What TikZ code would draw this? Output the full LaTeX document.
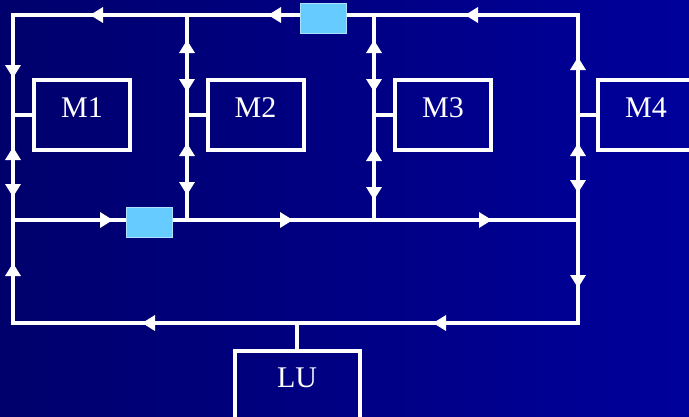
\documentclass[tikz,border=0pt]{standalone}
\usepackage{fontspec}
\setmainfont{Liberation Serif}
\usetikzlibrary{arrows.meta, decorations.markings}
\definecolor{bgleft}{RGB}{0,0,108}
\definecolor{bgright}{RGB}{0,0,155}
\definecolor{valvefill}{HTML}{66CCFF}
\definecolor{valveborder}{HTML}{A8E2FF}

\begin{document}
\begin{tikzpicture}[
    x=1pt, y=-1pt,
    wire/.style={draw=white, line width=4pt, line cap=rect},
    fwd/.style={postaction={decorate, decoration={markings,
        mark=at position #1pt with {\arrow{Triangle[length=13pt, width=15pt]}}}}},
    bwd/.style={postaction={decorate, decoration={markings,
        mark=at position #1pt with {\arrowreversed{Triangle[length=13pt, width=15pt]}}}}},
    unit/.style={draw=white, line width=4pt, minimum width=96pt, minimum height=70pt,
        text=white, font=\fontsize{30}{36}\selectfont, text depth=14pt},
    valve/.style={draw=valveborder, fill=valvefill, line width=1pt,
        minimum width=46pt, minimum height=30pt, inner sep=0pt},
]

% === BACKGROUND ===
\useasboundingbox (0,0) rectangle (689,416);
\clip (0,0) rectangle (689,416);
\shade[left color=bgleft, right color=bgright] (0,0) rectangle (689,416);

% === JUNCTIONS ===
\coordinate (tl) at (13,15);
\coordinate (tr) at (578,15);
\coordinate (ml) at (13,220);
\coordinate (mr) at (578,220);
\coordinate (bl) at (13,323);
\coordinate (br) at (578,323);
\coordinate (b2t) at (187,15);
\coordinate (b2m) at (187,220);
\coordinate (b3t) at (374,15);
\coordinate (b3m) at (374,220);

% === UNITS ===
\node[unit] (m1) at (82,115) {M1};
\node[unit] (m2) at (255.5,115) {M2};
\node[unit] (m3) at (443,115) {M3};
\node[unit] (m4) at (646,115) {M4};
\node[unit, minimum width=125pt, minimum height=80pt, text depth=26pt,
      anchor=north] (lu) at (297,349) {LU};

% === LOOP ===
\draw[wire, fwd=113, fwd=310, fwd=488] (tr) -- (tl);
\draw[wire, fwd=100, fwd=280, fwd=479] (ml) -- (mr);
\draw[wire, fwd=145, fwd=436] (br) -- (bl);
\draw[wire, fwd=63, bwd=132, fwd=182, bwd=248] (tl) -- (bl);
\draw[wire, bwd=42, bwd=128, fwd=178, fwd=273] (tr) -- (br);
\draw[wire, bwd=25, fwd=77, bwd=128, fwd=180] (b2t) -- (b2m);
\draw[wire, bwd=25, fwd=77, bwd=133, fwd=185] (b3t) -- (b3m);

% stubs to the units
\draw[wire] (m1.west -| tl) -- (m1.west);
\draw[wire] (m2.west -| b2t) -- (m2.west);
\draw[wire] (m3.west -| b3t) -- (m3.west);
\draw[wire] (m4.west -| tr) -- (m4.west);
\draw[wire] (lu.north) -- (lu.north |- bl);

% === VALVES ===
\node[valve] (valvetop) at (323.5,18) {};
\node[valve] (valvemid) at (149,222) {};

\end{tikzpicture}
\end{document}
